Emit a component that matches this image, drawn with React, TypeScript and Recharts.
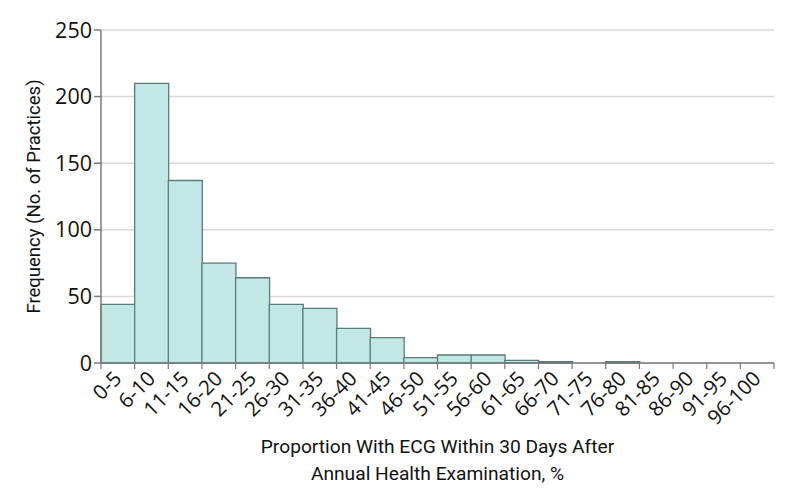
import React from 'react';
import { BarChart, Bar, XAxis, YAxis, CartesianGrid } from 'recharts';

// Bins of the proportion (%) and number of practices in each
const bins = [
  '0-5', '6-10', '11-15', '16-20', '21-25', '26-30', '31-35', '36-40', '41-45', '46-50',
  '51-55', '56-60', '61-65', '66-70', '71-75', '76-80', '81-85', '86-90', '91-95', '96-100',
];
const practices = [44, 210, 137, 75, 64, 44, 41, 26, 19, 4, 6, 6, 2, 1, 0, 1, 0, 0, 0, 0];
const yTicks = [0, 50, 100, 150, 200, 250];

const data = bins.map((bin, i) => ({ bin, count: practices[i] }));

const AXIS = '#7a7a7a';
const TICK_FONT = '"Open Sans", Lato, sans-serif';
const TITLE_FONT = 'Roboto, "Noto Sans", sans-serif';

// Tick marks sit on the bin edges, labels under the bin centre
const BinTick = ({ x, y, payload, index }: any) => {
  const half = payload.offset || 0;
  const last = index === bins.length - 1;
  return (
    <g>
      <line x1={x - half} y1={y - 8} x2={x - half} y2={y - 2} stroke={AXIS} strokeWidth={1.2} />
      {last && <line x1={x + half} y1={y - 8} x2={x + half} y2={y - 2} stroke={AXIS} strokeWidth={1.2} />}
      <text
        x={x + 5}
        y={y + 9}
        textAnchor="end"
        transform={`rotate(-45, ${x + 5}, ${y + 9})`}
        fontFamily={TICK_FONT}
        fontSize={20.5}
        fill="#111"
      >
        {payload.value}
      </text>
    </g>
  );
};

const XTitle = ({ viewBox }: any) => {
  const cx = viewBox.x + viewBox.width / 2;
  return (
    <text textAnchor="middle" fontFamily={TITLE_FONT} fontSize={19.2} fill="#111">
      <tspan x={cx} y={453}>Proportion With ECG Within 30 Days After</tspan>
      <tspan x={cx} y={480}>Annual Health Examination, %</tspan>
    </text>
  );
};

export default function App() {
  return (
    <div style={{ position: 'absolute', left: 0, top: 0, background: '#fff' }}>
      <BarChart
        width={794}
        height={504}
        data={data}
        barCategoryGap={0}
        margin={{ top: 30, right: 20, bottom: 0, left: 0 }}
      >
        <CartesianGrid vertical={false} stroke="#d9d9d9" strokeWidth={1.5} />
        <XAxis
          dataKey="bin"
          interval={0}
          height={141}
          tickLine={false}
          stroke={AXIS}
          strokeWidth={1.5}
          tick={<BinTick />}
          label={<XTitle />}
        />
        <YAxis
          width={101}
          domain={[0, 250]}
          ticks={yTicks}
          stroke={AXIS}
          strokeWidth={1.5}
          tickSize={7}
          tick={{ fill: '#111', fontFamily: TICK_FONT, fontSize: 21.5 }}
          label={{
            value: 'Frequency (No. of Practices)',
            angle: -90,
            position: 'insideLeft',
            offset: 33,
            style: { textAnchor: 'middle', fontFamily: TITLE_FONT, fontSize: 18.5, fill: '#111' },
          }}
        />
        <Bar dataKey="count" fill="#c3e7e5" stroke="#587d7b" strokeWidth={1.3} isAnimationActive={false} />
      </BarChart>
    </div>
  );
}
